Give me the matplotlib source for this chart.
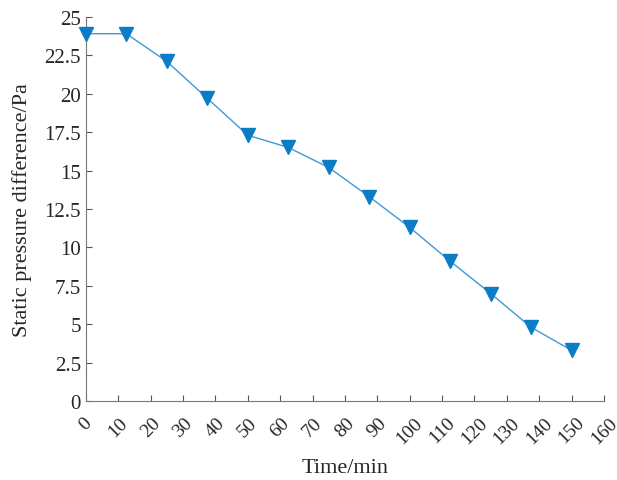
import numpy as np
import matplotlib
matplotlib.use('Agg')
import matplotlib.pyplot as plt

# data
time_min = [0, 12.5, 25, 37.5, 50, 62.5, 75, 87.5, 100, 112.5, 125, 137.5, 150]
pressure_pa = [23.9, 23.9, 22.1, 19.7, 17.3, 16.5, 15.2, 13.3, 11.3, 9.1, 7.0, 4.8, 3.3]
xticks = list(range(0, 161, 10))
yticks = [0, 2.5, 5, 7.5, 10, 12.5, 15, 17.5, 20, 22.5, 25]
yticklabels = ['0', '2.5', '5', '7.5', '10', '12.5', '15', '17.5', '20', '22.5', '25']

plt.rcParams['font.family'] = ['Liberation Serif', 'DejaVu Serif']

fig = plt.figure(figsize=(6.17, 4.81), dpi=100)
ax = fig.add_axes([0.139, 0.164, 0.840, 0.799])

ax.plot(time_min, pressure_pa, color='#3d9ad6', linewidth=1.0,
        marker='v', markersize=9.5, markerfacecolor='#0b7dc6',
        markeredgecolor='#0b7dc6', clip_on=False, zorder=3)

ax.set_xlim(0, 160)
ax.set_ylim(0, 25)
ax.set_xticks(xticks)
ax.set_xticklabels([str(t) for t in xticks], rotation=45, ha='center')
ax.set_yticks(yticks)
ax.set_yticklabels(yticklabels)

ax.tick_params(direction='in', length=4, width=0.8, colors='#555555',
               labelcolor='#262626', labelsize=15)
ax.tick_params(axis='x', pad=9, labelsize=14)

for side in ['top', 'right']:
    ax.spines[side].set_visible(False)
for side in ['left', 'bottom']:
    ax.spines[side].set_color('#777777')
    ax.spines[side].set_linewidth(0.8)

ax.set_xlabel('Time/min', fontsize=16, color='#262626', labelpad=8)
ax.set_ylabel('Static pressure difference/Pa', fontsize=16, color='#262626', labelpad=9)

fig.savefig('out.png', dpi=100)
